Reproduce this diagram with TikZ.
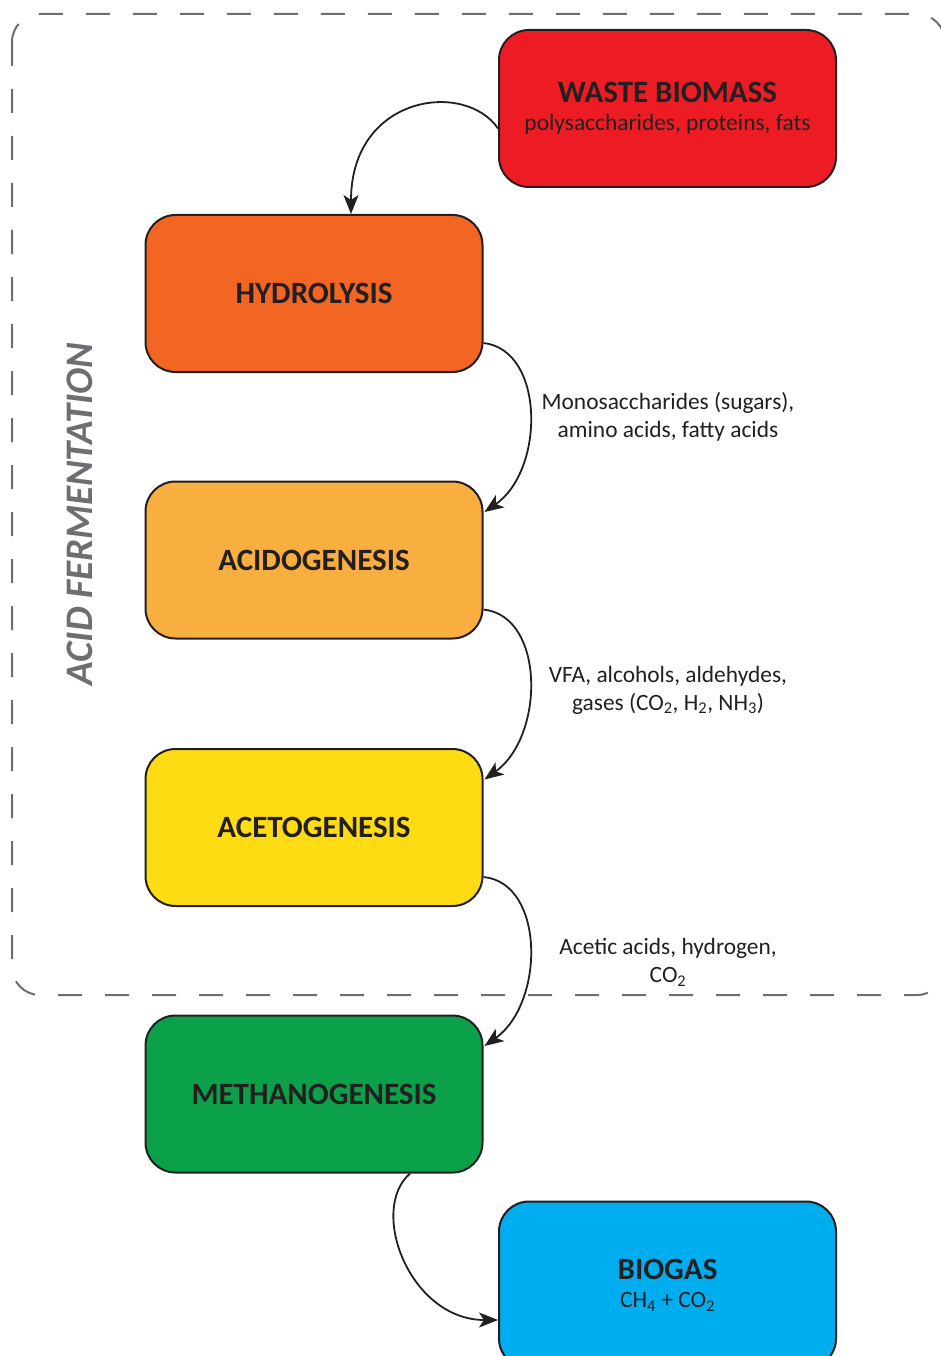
\documentclass[tikz,border=0pt]{standalone}
\usepackage{fontspec}
\setmainfont{Carlito}
\usetikzlibrary{arrows.meta,calc}
\definecolor{ink}{HTML}{231F20}
\definecolor{framegray}{HTML}{6D6E71}
\definecolor{cwaste}{HTML}{ED1C24}
\definecolor{chydro}{HTML}{F26522}
\definecolor{cacido}{HTML}{F9AE40}
\definecolor{caceto}{HTML}{FDDC14}
\definecolor{cmetha}{HTML}{0BA04A}
\definecolor{cbiogas}{HTML}{00AEEF}
\begin{document}
\begin{tikzpicture}[x=1pt,y=-1pt,
  stagebox/.style={draw=ink, line width=2pt, rounded corners=30pt,
    minimum width=337pt, minimum height=157pt, inner sep=0pt,
    align=center, text=ink, font=\fontsize{31}{34}\selectfont\bfseries},
  flow/.style={draw=ink, line width=1.8pt,
    -{Stealth[length=19pt,width=15pt,inset=5pt]}},
  flowlabel/.style={align=center, text=ink, inner sep=0pt,
    font=\fontsize{23.4}{28}\selectfont},
  phaseframe/.style={draw=framegray, line width=2pt,
    dash pattern=on 24pt off 23pt, rounded corners=28pt}]
\useasboundingbox (0,0) rectangle (941,1356);

% acid fermentation frame
\draw[phaseframe] (12,14) rectangle (945,995);
\node[rotate=90, text=framegray, inner sep=0pt,
  font=\fontsize{39}{40}\selectfont\bfseries\itshape] (phase) at (80,514) {ACID FERMENTATION};

% stages
\node[stagebox, fill=cwaste] (waste) at (667.5,108.5)
  {WASTE BIOMASS\\[-6pt]{\fontsize{23.4}{26}\selectfont\mdseries polysaccharides, proteins, fats}};
\node[stagebox, fill=chydro] (hydro) at (314,293.5) {HYDROLYSIS};
\node[stagebox, fill=cacido] (acido) at (314,560) {ACIDOGENESIS};
\node[stagebox, fill=caceto] (aceto) at (314,827.5) {ACETOGENESIS};
\node[stagebox, fill=cmetha] (metha) at (314,1094) {METHANOGENESIS};
% the biogas box runs past the lower edge of the page
\node[stagebox, fill=cbiogas, minimum height=167pt] (biogas) at (667.5,1285)
  {BIOGAS\\[-6pt]{\fontsize{23.4}{26}\selectfont\mdseries CH\textsubscript{4} + CO\textsubscript{2}}};

% intermediate products
\node[flowlabel] (l1) at (668,417) {Monosaccharides (sugars),\\amino acids, fatty acids};
\node[flowlabel] (l2) at (668,690) {VFA, alcohols, aldehydes,\\gases (CO\textsubscript{2}, H\textsubscript{2}, NH\textsubscript{3})};
\node[flowlabel] (l3) at (668,962) {Acetic acids, hydrogen,\\CO\textsubscript{2}};

% connectors
\draw[flow] ($(waste.west)+(0,20)$) .. controls (465,80) and (351,95) .. ($(hydro.north)+(37,0)$);
\draw[flow] ($(hydro.east)+(0,49.5)$) .. controls (545,350) and (545,470) .. ($(acido.east)+(1,-48)$);
\draw[flow] ($(acido.east)+(0,49.5)$) .. controls (545,616) and (545,736) .. ($(aceto.east)+(1,-48)$);
\draw[flow] ($(aceto.east)+(0,49.5)$) .. controls (545,883) and (545,1003) .. ($(metha.east)+(1,-48)$);
\draw[flow] ($(metha.south)+(96,0)$) .. controls (368,1210) and (410,1320) .. ($(biogas.west)+(0,35)$);
\end{tikzpicture}
\end{document}
